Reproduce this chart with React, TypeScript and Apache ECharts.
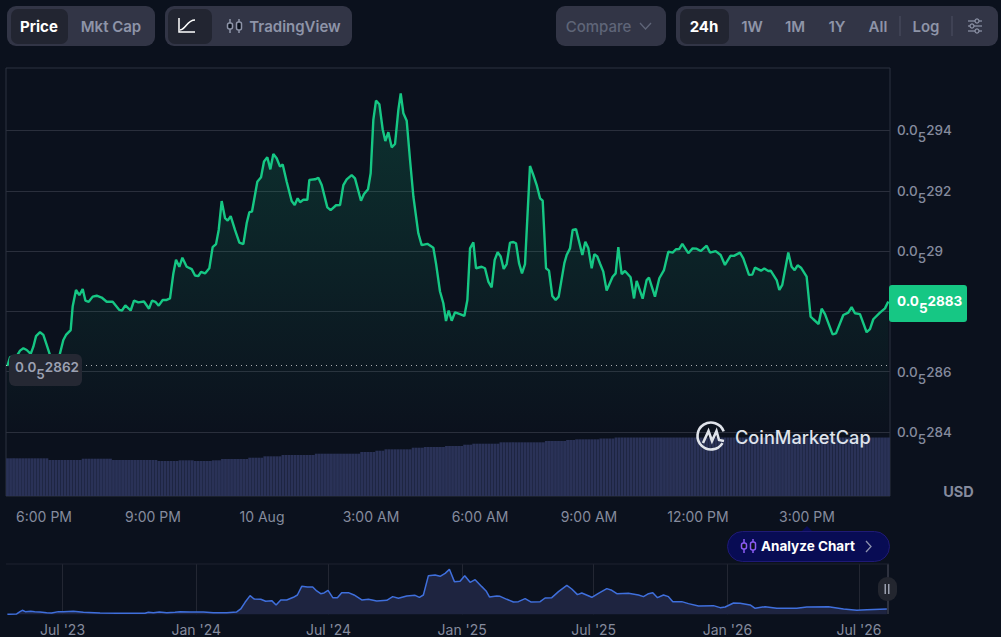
import React, { useEffect, useRef } from "react";
import * as echarts from "echarts";

// Main chart: minutes after 6:00 PM, price in units of 1e-8 USD (288.33 = 0.0₅2883)
const priceMinutes = [
  -60.6,-56.2,-45.1,-39.6,-34.1,-28.6,-22,-17.6,-13.2,-6.6,-1.1,4.4,9.9,18.2,25.3,31.9,36.3,44,47.3,52.8,58.3,63.9,68.3,73.8,80.4,87,95.2,103.5,113.4,124.4,128.8,134.3,143.1,148.6,155.8,165.1,173.4,178.4,183.9,189.4,196,202.6,208.1,213.6,218,223.5,228.5,235.6,243.9,249.4,254.9,259.3,265.9,273,278.5,284.1,288.5,293.4,299,303.3,308.3,315.4,322.6,329.2,334.7,339.1,343.5,352.3,358.4,363.3,368.8,373.8,378.7,384.2,389.8,394.2,400.8,409,414,418.9,
  422.8,428.3,434.9,438.2,447.6,453.1,458.6,467.9,473.4,482.3,488.9,494.4,499.9,508.1,513.6,523.5,528.5,535.1,539.5,543.9,548.3,553.8,559.3,563.7,568.7,574.2,579.7,585.2,589.1,593.5,599,604.5,610,618.2,623.7,633.1,643,647.4,654,659.5,663.9,668.3,673.3,678.8,687,694.2,699.2,703.6,709.1,713.5,722.8,728.3,733.8,739.3,744.3,749.2,754.2,759.2,764.1,769.6,775.1,779.5,784.5,789.4,794.4,802.6,808.2,813.7,819.2,823.6,829.1,834,839.5,845,850,859.4,863.2,868.7,873.1,878.6,889.1,894,899,904.5,908.9,913.8,
  918.2,923.7,929.2,939.1,944.1,948.5,954,959.5,968.8,974.4,978.8,988.7,995.3,999.1,1009,1016.2,1023.9,1031.1,1038.2,1043.7,1049.2,1054.2,1064.1,1071.2,1077.8,1084.5,1094.4,1099.9,1109.2,1117.5,1124.6,1134,1139.5,1149.4,1154.9,1164.3,1169.8,1174.2,1184.1,1189.6,1196.2,1200.1,1210,1214.4,1219.3,1229.2,1234.7,1239.7,1244.6,1250.2,1259.5,1266.1,1270.6,1279.3,1284.3,1289.8,1302.4,1308,1320.1,1328.3,1333.8,1339.3,1347.6,1358.6,1364.1,1369.6,1380.6,1388.9,1394.4,
];
const priceValues = [
  286.19,286.48,286.52,286.7,286.78,286.72,286.59,286.83,287.18,287.31,287.22,286.89,286.55,286.48,286.52,287.05,287.22,287.38,288.16,288.71,288.54,288.74,288.36,288.32,288.49,288.52,288.46,288.32,288.32,288.05,288.03,288.2,288.03,288.36,288.3,288.33,288.09,288.36,288.32,288.19,288.38,288.38,288.43,289.26,289.71,289.48,289.78,289.48,289.4,289.19,289.17,289.31,289.26,289.43,290.13,290.23,290.7,291.66,291.09,291.01,291.16,290.7,290.28,290.23,290.92,291.29,291.31,292.3,292.45,292.97,293.11,292.71,293.22,293.08,292.8,292.87,292.3,291.66,291.53,291.75,
  291.62,291.7,291.7,292.36,292.38,292.43,292.19,291.45,291.36,291.52,291.53,292.19,292.38,292.52,292.41,291.67,291.89,292.05,292.58,294.35,294.99,294.87,294.04,293.65,293.94,293.44,293.55,294.68,295.23,294.57,294.32,293.02,291.81,290.59,290.2,290.24,290.11,289.59,288.66,288.27,287.68,288.03,287.69,287.97,287.91,287.85,288.38,290.09,290.29,289.43,289.48,289.43,288.99,288.8,289.71,289.96,289.82,289.41,289.57,290.28,290.3,290.26,289.6,289.26,289.57,292.82,292.52,292.19,291.75,291.67,289.43,289.35,288.51,288.38,288.49,289.6,289.87,290.09,290.7,290.73,289.87,290.31,290.09,289.43,289.9,289.82,
  289.59,289.32,288.69,289.15,289.26,290.13,289.24,289.34,289.13,288.43,289.01,288.42,289.04,289.12,288.49,289.1,289.37,289.98,289.95,290.06,290.07,290.24,289.93,290.09,290.08,290,290.18,289.95,290,289.87,289.54,289.85,289.84,289.95,289.76,289.21,289.22,289.45,289.35,289.42,289.34,289.35,289.04,288.71,288.88,289.95,289.48,289.37,289.53,289.45,289.15,287.83,287.74,287.58,288.09,287.91,287.24,287.27,287.88,287.96,288.14,287.94,287.91,287.31,287.41,287.74,287.96,288.1,288.33,
];
const openPrice = 286.2;
const yGridTicks = [284, 286, 288, 290, 292, 294];
// The 288 label sits behind the current-price tag in the reference, so it is not drawn.
const yLabelTicks = [284, 286, 290, 292, 294];
const yTickLabels = ["284", "286", "29", "292", "294"];
const xTicks = [0, 180, 360, 540, 720, 900, 1080, 1260];
const xTickLabels = ["6:00 PM", "9:00 PM", "10 Aug", "3:00 AM", "6:00 AM", "9:00 AM", "12:00 PM", "3:00 PM"];

// Volume bars as [number of bars, relative volume]
const volumeRuns = [
  [14,37.7],[11,36],[10,37.3],[15,36],[7,35],[5,35.7],[6,35],[3,35.7],[9,37],[5,38.3],[6,39.7],[11,41],[15,42.3],
  [5,44],[3,45.3],[9,46.7],[4,48.3],[7,49],[6,50],[3,51.3],[9,52.3],[15,53.7],[7,55],[3,56],[8,56.7],[5,57.5],[91,58.5],
];
const volumeValues = volumeRuns.flatMap(([n, v]) => new Array(n).fill(v));
const volumeCategories = volumeValues.map((_, i) => String(i));

// Overview chart: days after 1 Jul 2023, relative price
const overviewDays = [
  -75.9,-63.1,-58.5,-55.3,-51.2,-43.8,-38.3,-31,-21.8,-14.9,-5.7,1.1,14.9,28.7,51.6,74.5,97.5,113.5,118.1,125,133.3,143.4,154.8,161.7,175.5,193.8,207.6,225.9,239.7,245.2,251.2,258.1,263.6,272.8,279.6,287.9,293.9,300.3,308.5,317.7,323.2,329.2,337,344.3,349.8,355.3,359.9,365.4,371.9,378.3,384.2,393.4,401.2,411.8,421,432.4,446.2,454.4,462.2,473.7,485.2,491.1,496.6,503.5,512.7,519.6,526.5,532.4,539.3,547.1,553.5,560.9,567.8,577,582.9,587.5,597.6,
  602.2,611.4,620.5,627.4,636.6,644.4,657.3,664.1,673.3,682.5,694,700.8,708.6,714.6,728.4,737.5,749,755.9,762.8,778.8,792.6,799.5,806.4,812.3,818.8,827,833.9,839.9,852.2,861.4,875.2,895.8,905,911.9,923.4,932.5,946.3,953.2,966.9,983,1010.5,1024.3,1054.1,1074.8,1093.1,1106.9,1134.4,
];
const overviewValues = [
  0,1,8,12,8,9,8,7,5,4,8,8,9,6,4,3,3,3,6,5,7,5,6,8,7,7,5,5,7,16,36,56,46,45,39,41,28,43,43,51,58,84,82,82,70,62,64,72,50,50,65,65,58,43,45,40,42,53,48,55,57,51,58,116,118,114,123,135,98,99,116,96,104,83,70,52,55,
  54,45,37,38,47,37,38,49,50,68,87,76,59,64,51,63,77,72,62,63,58,53,62,65,50,58,53,38,38,32,25,26,20,22,34,33,28,18,23,18,18,22,23,16,12,14,16,
];
const overviewTicks = [0, 184, 366, 550, 731, 915, 1096];
const overviewLabels = ["Jul '23", "Jan '24", "Jul '24", "Jan '25", "Jul '25", "Jan '26", "Jul '26"];

const FONT = "Inter";
const BG = "#0b111d";
const GRID = "#2a2f3c";
const GREEN = "#16c784";
const MUTED = "#858b9d";

const subRich = (color: string, size: number, weight: number | string) => ({
  n: { fontFamily: FONT, fontSize: size, fontWeight: weight, color, fill: color },
  s: { fontFamily: FONT, fontSize: size, fontWeight: weight, color, fill: color, padding: [14, 0, 0, 0], verticalAlign: "bottom" },
});

const rect = (x: number, y: number, w: number, h: number, r: number, fill: string, extra: any = {}) => ({
  type: "rect", z: 100, shape: { x, y, width: w, height: h, r }, style: { fill, ...extra },
});
const label = (text: string, x: number, y: number, fill: string, size = 15, weight: number | string = 500, align = "center") => ({
  type: "text", z: 101,
  style: { text, x, y, fill, font: `${weight} ${size}px ${FONT}`, align, verticalAlign: "middle" },
});
const poly = (points: number[][], stroke: string, lineWidth = 1.5) => ({
  type: "polyline", z: 101, shape: { points }, style: { stroke, lineWidth, fill: "none" },
});
const candle = (x: number, y: number, color: string) => [
  poly([[x + 3, y], [x + 3, y + 14]], color),
  poly([[x + 12, y], [x + 12, y + 14]], color),
  { type: "rect", z: 102, shape: { x: x + 0.5, y: y + 4, width: 5, height: 6, r: 2 }, style: { fill: BG, stroke: color, lineWidth: 1.5 } },
  { type: "rect", z: 102, shape: { x: x + 9.5, y: y + 3, width: 5, height: 8, r: 2 }, style: { fill: BG, stroke: color, lineWidth: 1.5 } },
];

const chrome = () => {
  const dim = "#8e94a8";
  return [
    rect(7, 6, 148, 40, 9, "#323546"),
    rect(11, 9, 57, 35, 7, "#222531"),
    label("Price", 39, 26, "#ffffff", 15, 700),
    label("Mkt Cap", 111, 26, dim, 15, 600),
    rect(165, 6, 187, 40, 9, "#323546"),
    rect(168, 9, 44, 35, 7, "#222531"),
    poly([[179, 18], [179, 32], [195, 32]], "#ffffff", 1.5),
    { type: "bezierCurve", z: 101, shape: { x1: 180, y1: 30, cpx1: 186, cpy1: 29, cpx2: 187, cpy2: 20, x2: 195, y2: 20 }, style: { stroke: "#ffffff", lineWidth: 1.5, fill: "none" } },
    ...candle(227, 19, dim),
    label("TradingView", 295, 26, dim, 15, 600),
    rect(556, 6, 110, 40, 9, "#323546"),
    label("Compare", 598.5, 26, "#5f6578", 15, 500),
    poly([[640, 23], [645.5, 29], [651, 23]], "#5f6578", 1.3),
    rect(676, 6, 322, 40, 9, "#323546"),
    rect(680, 9, 49, 35, 7, "#222531"),
    label("24h", 704, 26, "#ffffff", 15, 700),
    label("1W", 752, 26, dim, 15, 600),
    label("1M", 795, 26, dim, 15, 600),
    label("1Y", 837, 26, dim, 15, 600),
    label("All", 878, 26, dim, 15, 600),
    poly([[900, 16], [900, 36]], "#4c5063", 1),
    label("Log", 926, 26, dim, 15, 600),
    poly([[952, 16], [952, 36]], "#4c5063", 1),
    poly([[968, 21], [982, 21]], dim, 1.2),
    poly([[968, 26], [982, 26]], dim, 1.2),
    poly([[968, 31], [982, 31]], dim, 1.2),
    { type: "circle", z: 102, shape: { cx: 977, cy: 21, r: 2 }, style: { fill: "#323546", stroke: dim, lineWidth: 1.2 } },
    { type: "circle", z: 102, shape: { cx: 972, cy: 26, r: 2 }, style: { fill: "#323546", stroke: dim, lineWidth: 1.2 } },
    { type: "circle", z: 102, shape: { cx: 977, cy: 31, r: 2 }, style: { fill: "#323546", stroke: dim, lineWidth: 1.2 } },

    // opening price tag
    rect(9, 354, 73, 32, 6, "#252833"),
    {
      type: "text", z: 101,
      style: { text: "{n|0.0}{s|5}{n|2862}", x: 15, y: 367, verticalAlign: "middle", align: "left", rich: subRich("#9ca1b2", 13.5, 600) },
    },
    // current price tag
    rect(889, 285, 78, 37, 3, GREEN),
    {
      type: "text", z: 101,
      style: { text: "{n|0.0}{s|5}{n|2883}", x: 897, y: 301, verticalAlign: "middle", align: "left", rich: subRich("#ffffff", 13.5, 700) },
    },

    // watermark
    { type: "arc", z: 101, shape: { cx: 711, cy: 436, r: 13.5, startAngle: -0.35, endAngle: 0.55, clockwise: false }, style: { stroke: "#dfe3ea", lineWidth: 2.6, fill: "none" } },
    poly([[703, 443], [708.5, 431], [712, 441], [716.5, 431], [719, 440], [724, 441]], "#dfe3ea", 2.6),
    label("CoinMarketCap", 735, 437, "#dfe3ea", 18.2, 500, "left"),

    label("USD", 958.5, 491, MUTED, 14.5, 700),

    // analyze button
    { type: "polygon", z: 100, shape: { points: [[801, 532], [807, 526], [813, 532]] }, style: { fill: "#080c54" } },
    rect(727.5, 531.5, 162, 30, 15, "#080c54", { stroke: "#1f1a75", lineWidth: 1 }),
    ...candle(741, 539, "#8b5cf6"),
    label("Analyze Chart", 761, 546, "#ffffff", 13.5, 700, "left"),
    poly([[866, 541], [871, 546.5], [866, 552]], "#8d92ad", 1.3),

    // overview frame + handle
    poly([[6, 564], [889, 564]], "#1f2330", 1),
    rect(887, 564, 2, 50, 0, "#2d313e"),
    rect(878, 577, 19, 24, 9, "#23262f"),
    rect(884.5, 584, 1.5, 10, 0, "#9a9fae"),
    rect(888, 584, 1.5, 10, 0, "#9a9fae"),
  ];
};

export default function App() {
  const ref = useRef<HTMLDivElement>(null);
  useEffect(() => {
    document.body.style.margin = "0";
    document.body.style.background = BG;
    const chart = echarts.init(ref.current!, null, { renderer: "svg" });
    chart.setOption({
      animation: false,
      backgroundColor: BG,
      textStyle: { fontFamily: FONT },
      grid: [
        { left: 6, top: 68, width: 884, height: 428, show: true, borderColor: "#2d3240", borderWidth: 1, backgroundColor: "transparent" },
        { left: 6, top: 564, width: 882, height: 50.3 },
      ],
      xAxis: [
        {
          type: "value", gridIndex: 0, min: -62.8, max: 1397.2,
          axisLine: { show: false }, splitLine: { show: false },
          axisTick: { show: false, customValues: xTicks },
          axisLabel: {
            customValues: xTicks, color: MUTED, fontFamily: FONT, fontSize: 14, margin: 13,
            formatter: (v: number) => xTickLabels[xTicks.indexOf(v)] ?? "",
          },
        },
        {
          type: "category", gridIndex: 0, data: volumeCategories, show: false,
        },
        {
          type: "value", gridIndex: 1, min: -77.8, max: 1136,
          axisLine: { show: false },
          splitLine: { show: true, lineStyle: { color: "#232733", width: 1 } },
          axisTick: { show: false, customValues: overviewTicks },
          axisLabel: {
            customValues: overviewTicks, color: MUTED, fontFamily: FONT, fontSize: 14, margin: 8,
            formatter: (v: number) => overviewLabels[overviewTicks.indexOf(v)] ?? "",
          },
        },
      ],
      yAxis: [
        {
          type: "value", gridIndex: 0, position: "right", min: 281.88, max: 296.07,
          axisLine: { show: false },
          axisTick: { show: false, customValues: yGridTicks },
          splitLine: { show: true, lineStyle: { color: GRID, width: 1 } },
          axisLabel: {
            customValues: yLabelTicks, margin: 7, align: "left",
            formatter: (v: number) => `{n|0.0}{s|5}{n|${yTickLabels[yLabelTicks.indexOf(v)]}}`,
            rich: subRich(MUTED, 13.5, 500),
          },
        },
        { type: "value", gridIndex: 0, min: 0, max: 428, show: false },
        { type: "value", gridIndex: 1, min: 0, max: 151, show: false },
      ],
      series: [
        {
          type: "bar", name: "Volume", xAxisIndex: 1, yAxisIndex: 1, z: 1,
          data: volumeValues, barCategoryGap: "6%", itemStyle: { color: "#2a3257" }, silent: true,
        },
        {
          type: "line", name: "Price", xAxisIndex: 0, yAxisIndex: 0, z: 3, symbol: "none",
          data: priceMinutes.map((m, i) => [m, priceValues[i]]),
          lineStyle: { color: GREEN, width: 2.4 },
          itemStyle: { color: GREEN },
          areaStyle: {
            color: new echarts.graphic.LinearGradient(0, 0, 0, 1, [
              { offset: 0, color: "rgba(22,199,132,0.26)" },
              { offset: 0.72, color: "rgba(22,199,132,0.04)" },
              { offset: 0.85, color: "rgba(22,199,132,0)" },
            ]),
          },
          markLine: {
            silent: true, symbol: "none", label: { show: false },
            lineStyle: { color: "rgba(255,255,255,0.65)", type: [1, 4], width: 1 },
            data: [{ yAxis: openPrice }],
          },
        },
        {
          type: "line", name: "Overview", xAxisIndex: 2, yAxisIndex: 2, z: 3, symbol: "none",
          data: overviewDays.map((d, i) => [d, overviewValues[i]]),
          lineStyle: { color: "#3f6fdc", width: 1.5 },
          itemStyle: { color: "#3f6fdc" },
          areaStyle: { color: "#1e2440", opacity: 1 },
        },
      ],
      graphic: chrome(),
    });
    return () => chart.dispose();
  }, []);
  return <div ref={ref} style={{ width: 1001, height: 637 }} />;
}
